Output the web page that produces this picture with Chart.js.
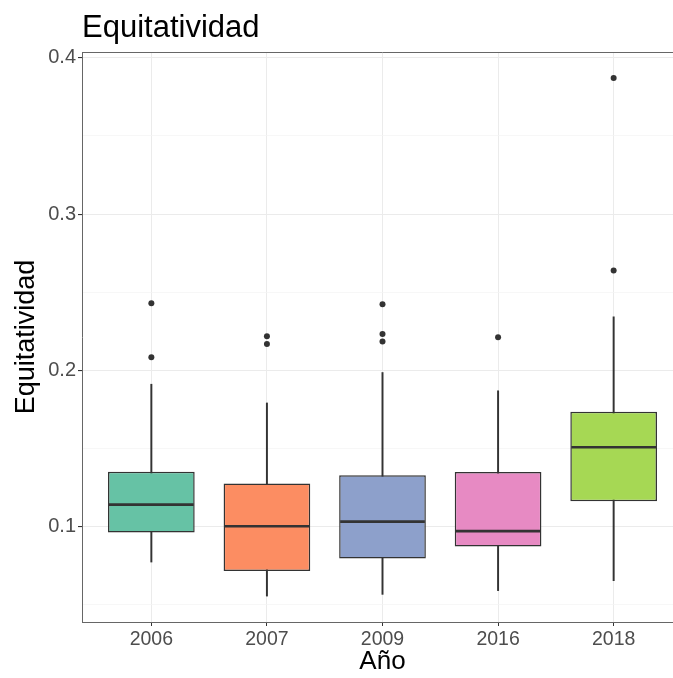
<!DOCTYPE html>
<html>
<head>
<meta charset="utf-8">
<script src="https://cdn.jsdelivr.net/npm/chart.js@4/dist/chart.umd.min.js"></script>
<style>
  body { margin: 0; overflow: hidden; background: #fff; }
  #wrap { width: 690px; height: 678px; }
</style>
</head>
<body>
<div id="wrap"><canvas id="chartEquitatividad" width="690" height="678"></canvas></div>
<script>
// ---------- DATA ----------
var years = ['2006', '2007', '2009', '2016', '2018'];
var whiskerLow  = [0.0771, 0.0553, 0.0564, 0.0588, 0.0651];
var q1          = [0.0960, 0.0714, 0.0793, 0.0871, 0.1160];
var median      = [0.1139, 0.1000, 0.1030, 0.0969, 0.1506];
var q3          = [0.1349, 0.1274, 0.1327, 0.1347, 0.1733];
var whiskerHigh = [0.1910, 0.1790, 0.1985, 0.1868, 0.2342];
var outliers = [
    [0.2429, 0.2083],
    [0.2218, 0.2167],
    [0.2423, 0.2231, 0.2184],
    [0.2211],
    [0.3872, 0.2638]
];
var yTicksMajor = [0.1, 0.2, 0.3, 0.4];
var boxColors = ['#66c2a5', '#fc8d62', '#8da0cb', '#e78ac3', '#a6d854'];

var FONT = '"Liberation Sans", Arial, sans-serif';

function isMajor(v) {
    return yTicksMajor.some(function (t) { return Math.abs(t - v) < 1e-6; });
}

// whiskers, boxes and outlier points built from the arrays above
var whiskerData = years.map(function (y, i) { return { x: i, y: [whiskerLow[i], whiskerHigh[i]] }; });
var boxData = years.map(function (y, i) { return { x: i, y: [q1[i], q3[i]] }; });
var pointData = [];
outliers.forEach(function (list, i) {
    list.forEach(function (v) { pointData.push({ x: i, y: v }); });
});

// medians, top border and the title
var boxExtras = {
    id: 'boxExtras',
    afterDatasetsDraw: function (chart) {
        var ctx = chart.ctx;
        var area = chart.chartArea;
        var yScale = chart.scales.y;
        var boxes = chart.getDatasetMeta(1).data;
        ctx.save();
        ctx.strokeStyle = '#333333';
        ctx.lineWidth = 2.6;
        boxes.forEach(function (bar, i) {
            var y = yScale.getPixelForValue(median[i]);
            ctx.beginPath();
            ctx.moveTo(bar.x - bar.width / 2 + 1, y);
            ctx.lineTo(bar.x + bar.width / 2 - 1, y);
            ctx.stroke();
        });
        ctx.strokeStyle = '#666666';
        ctx.lineWidth = 1;
        ctx.beginPath();
        ctx.moveTo(area.left, area.top + 0.5);
        ctx.lineTo(area.right, area.top + 0.5);
        ctx.stroke();
        ctx.restore();
    },
    afterDraw: function (chart) {
        var ctx = chart.ctx;
        ctx.save();
        ctx.fillStyle = '#000000';
        ctx.font = '31px ' + FONT;
        ctx.textAlign = 'left';
        ctx.textBaseline = 'alphabetic';
        ctx.fillText('Equitatividad', chart.chartArea.left, 37);
        ctx.restore();
    }
};

var ctx = document.getElementById('chartEquitatividad');
new Chart(ctx, {
    type: 'bar',
    data: {
        datasets: [{
            label: 'bigotes',
            data: whiskerData,
            backgroundColor: '#333333',
            borderWidth: 0,
            barThickness: 1.3,
            grouped: false,
            order: 3
        }, {
            label: 'cajas',
            data: boxData,
            backgroundColor: boxColors,
            borderColor: '#333333',
            borderWidth: 1.5,
            borderSkipped: false,
            barPercentage: 0.75,
            categoryPercentage: 1,
            grouped: false,
            order: 2
        }, {
            type: 'scatter',
            label: 'atípicos',
            data: pointData,
            pointRadius: 3,
            pointBackgroundColor: '#333333',
            pointBorderWidth: 0,
            showLine: false,
            order: 1
        }]
    },
    options: {
        responsive: false,
        animation: false,
        layout: { padding: { top: 52, right: 7, left: 0, bottom: 0 } },
        plugins: {
            legend: { display: false },
            tooltip: { enabled: false }
        },
        scales: {
            x: {
                type: 'linear',
                min: -0.6,
                max: 4.6,
                offset: false,
                afterFit: function (scale) { scale.height = 56; },
                ticks: {
                    stepSize: 1,
                    includeBounds: false,
                    color: '#4d4d4d',
                    font: { family: FONT, size: 19.5 },
                    padding: 2,
                    maxRotation: 0,
                    callback: function (v) { return years[v] !== undefined ? years[v] : ''; }
                },
                grid: { offset: false, color: '#ebebeb', lineWidth: 1, tickLength: 4, tickColor: '#333333' },
                border: { display: true, color: '#666666', width: 1 },
                title: {
                    display: true,
                    text: 'Año',
                    color: '#000000',
                    font: { family: FONT, size: 26 },
                    padding: { top: 0, bottom: 1 }
                }
            },
            y: {
                type: 'linear',
                min: 0.0387,
                max: 0.4038,
                afterFit: function (scale) { scale.width = 82; },
                ticks: {
                    stepSize: 0.05,
                    includeBounds: false,
                    color: '#4d4d4d',
                    font: { family: FONT, size: 20 },
                    padding: 2,
                    callback: function (v) { return isMajor(v) ? v.toFixed(1) : ''; }
                },
                grid: {
                    color: function (c) { return isMajor(c.tick.value) ? '#ebebeb' : '#f3f3f3'; },
                    lineWidth: function (c) { return isMajor(c.tick.value) ? 1.1 : 0.7; },
                    tickLength: 4,
                    tickColor: function (c) { return isMajor(c.tick.value) ? '#333333' : 'rgba(0,0,0,0)'; }
                },
                border: { display: true, color: '#666666', width: 1 },
                title: {
                    display: true,
                    text: 'Equitatividad',
                    color: '#000000',
                    font: { family: FONT, size: 27 },
                    padding: { top: 10, bottom: 0 }
                }
            }
        }
    },
    plugins: [boxExtras]
});
</script>
</body>
</html>
